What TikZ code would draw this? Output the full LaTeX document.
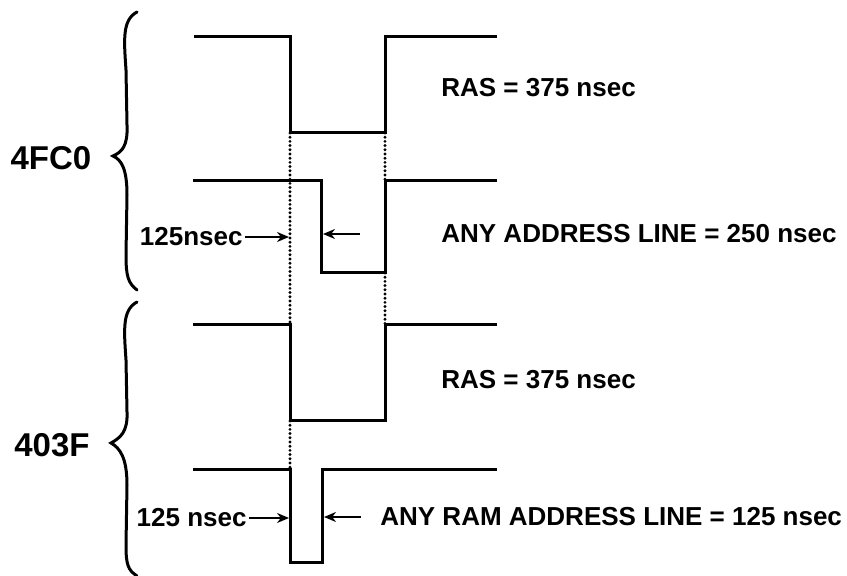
\documentclass[tikz,border=0pt]{standalone}
\usepackage{fontspec}
\setmainfont{Liberation Sans}
\usetikzlibrary{arrows.meta}
\begin{document}
\begin{tikzpicture}[x=0.5pt,y=-0.5pt,
  wave/.style={line width=1.5pt, line join=miter},
  guide/.style={line width=1.6pt, line cap=round, dash pattern=on 0pt off 2.1pt},
  ptr/.style={line width=1.1pt, -{Stealth[length=6pt,width=5pt]}},
  lbl/.style={font=\fontsize{13}{15}\selectfont\bfseries, inner sep=0pt},
  big/.style={font=\fontsize{16.5}{18}\selectfont\bfseries, inner sep=0pt},
  curly/.style={line width=1.5pt, line cap=round}]
\useasboundingbox (0,0) rectangle (847,576);

% waveforms
\draw[wave] (194,37) -- (290,37) -- (290,133) -- (385,133) -- (385,37) -- (497,37);
\draw[wave] (193,181) -- (321,181) -- (321,273) -- (385,273) -- (385,181) -- (497,181);
\draw[wave] (193,325) -- (290,325) -- (290,421) -- (385,421) -- (385,325) -- (497,325);
\draw[wave] (193,470) -- (290,470) -- (290,563) -- (322,563) -- (322,470) -- (497,470);

% dotted guides
\draw[guide] (290,133) -- (290,325);
\draw[guide] (290,421) -- (290,470);
\draw[guide] (385,133) -- (385,181);
\draw[guide] (385,273) -- (385,325);

% braces
\draw[curly] (137,12) .. controls (122,20) and (124,40) .. (126,70) -- (127,125)
  .. controls (128,146) and (122,152) .. (113,156)
  .. controls (122,160) and (127,170) .. (127,195) -- (126,255)
  .. controls (126,276) and (128,283) .. (137,290);
\draw[curly] (137,302) .. controls (122,310) and (124,330) .. (126,360) -- (127,412)
  .. controls (128,432) and (120,438) .. (111,443)
  .. controls (120,448) and (127,458) .. (127,485) -- (126,545)
  .. controls (126,565) and (128,570) .. (137,576);

% group labels
\node[big] (g1) at (51,158) {4FC0};
\node[big] (g2) at (52,445) {403F};

% right-hand labels
\node[lbl, anchor=west] (t1) at (441,88) {RAS = 375 nsec};
\node[lbl, anchor=west] (t2) at (441,234) {ANY ADDRESS LINE = 250 nsec};
\node[lbl, anchor=west] (t3) at (441,380) {RAS = 375 nsec};
\node[lbl, anchor=west] (t4) at (380,517) {ANY RAM ADDRESS LINE = 125 nsec};

% left-hand labels and pointers
\node[lbl, anchor=east] (a1) at (243,237) {125nsec};
\node[lbl, anchor=east] (a2) at (247,518) {125 nsec};
\coordinate (e1) at (289,237);
\coordinate (e2) at (289,518);
\draw[ptr] (a1.east) ++(2,0) -- (e1);
\draw[ptr] (a2.east) ++(2,0) -- (e2);

\coordinate (s3) at (360,234);
\coordinate (e3) at (323,234);
\draw[ptr] (s3) -- (e3);
\coordinate (s4) at (361,517);
\coordinate (e4) at (324,517);
\draw[ptr] (s4) -- (e4);
\end{tikzpicture}
\end{document}
